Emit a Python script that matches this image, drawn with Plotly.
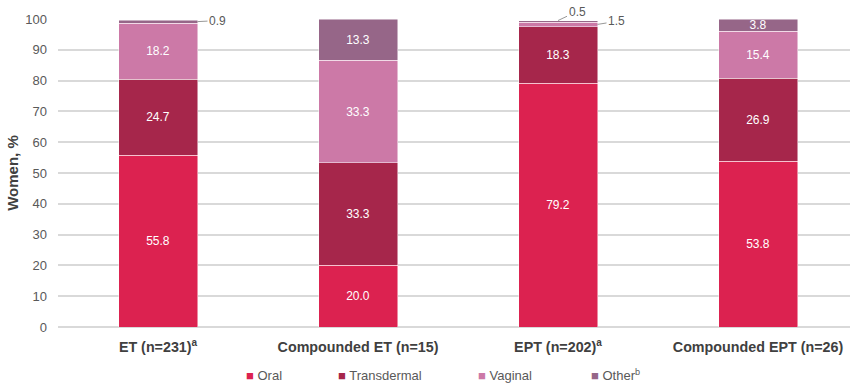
import plotly.graph_objects as go

# Route of administration by therapy group (% of women)
categories = ["ET (n=231)<sup>a</sup>", "Compounded ET (n=15)",
              "EPT (n=202)<sup>a</sup>", "Compounded EPT (n=26)"]
routes = ["Oral", "Transdermal", "Vaginal", "Other<sup>b</sup>"]
oral = [55.8, 20.0, 79.2, 53.8]
transdermal = [24.7, 33.3, 18.3, 26.9]
vaginal = [18.2, 33.3, 1.5, 15.4]
other = [0.9, 13.3, 0.5, 3.8]
y_ticks = list(range(0, 101, 10))

series = [oral, transdermal, vaginal, other]
colors = ["#DC2250", "#A6264B", "#CC79A7", "#966688"]

FONT = "Liberation Sans, Arial, sans-serif"
GRID = "#D9D9D9"
TXT = "#595959"
MIN_INSIDE = 3.0  # smaller segments get an outside leader label

fig = go.Figure()
xs = list(range(len(categories)))
for name, vals, col in zip(routes, series, colors):
    fig.add_trace(go.Bar(
        x=xs, y=vals, name=name,
        marker=dict(color=col, line=dict(color="rgba(255,255,255,0.6)", width=0.8)),
        text=[f"{v:.1f}" if v >= MIN_INSIDE else "" for v in vals],
        textposition="inside", insidetextanchor="middle",
        textfont=dict(color="white", size=12, family=FONT),
        textangle=0, constraintext="none",
        showlegend=False, hoverinfo="skip",
    ))

# Leader labels for thin segments: (category, series index, anchor, dx, dy)
half_w = (1 - 0.605) / 2
leaders = [
    (0, 3, "side", 20, -1),
    (2, 3, "top", 19, -9),
    (2, 2, "side", 19, -3),
]
for ci, si, where, dx, dy in leaders:
    base = sum(series[k][ci] for k in range(si))
    val = series[si][ci]
    if where == "top":
        ax_x, ax_y = ci, base + val
    else:
        ax_x, ax_y = ci + half_w, base + val / 2
    fig.add_annotation(
        x=ax_x, y=ax_y, xref="x", yref="y",
        text=f"{val:.1f}", showarrow=True, arrowhead=0, arrowwidth=0.9,
        arrowcolor="#8C8C8C", ax=dx, ay=dy, standoff=0,
        font=dict(size=12, color=TXT, family=FONT),
    )

# Legend row drawn as colored squares plus labels
legend_px = [244, 336, 476, 589]
plot_left, plot_w = 58, 792
for name, col, px in zip(routes, colors, legend_px):
    fig.add_annotation(
        x=(px - plot_left) / plot_w, y=-0.156, xref="paper", yref="paper",
        xanchor="left", yanchor="middle", showarrow=False,
        text=f"<span style='color:{col}'>■</span> {name}",
        font=dict(size=13, color=TXT, family=FONT),
    )

fig.update_layout(
    barmode="stack", bargap=0.605,
    width=850, height=386,
    margin=dict(l=58, r=0, t=19, b=59),
    plot_bgcolor="white", paper_bgcolor="white",
    font=dict(family=FONT, color=TXT, size=13),
)
fig.update_xaxes(
    tickmode="array", tickvals=xs, ticktext=categories,
    range=[-0.5, 3.46], showgrid=False, showline=False, zeroline=False,
    tickfont=dict(size=14.3, color="#404040", family=FONT, weight="bold"),
    ticks="", ticklabelstandoff=10,
)
fig.update_yaxes(
    range=[0, 100], tickvals=y_ticks, showgrid=True, gridcolor=GRID, gridwidth=1.5,
    zeroline=True, zerolinecolor=GRID, zerolinewidth=1.5, showline=False,
    tickfont=dict(size=13, color=TXT), ticks="", ticklabelstandoff=10,
    title=dict(text="<b>Women, %</b>", font=dict(size=15, color="#404040"), standoff=3),
)

fig.write_html("out.html")
